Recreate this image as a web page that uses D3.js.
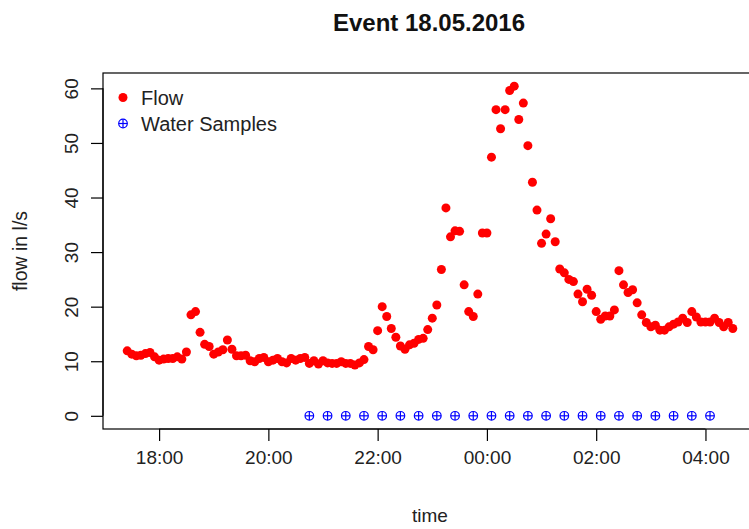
<!DOCTYPE html>
<html>
<head>
<meta charset="utf-8">
<script src="https://cdn.jsdelivr.net/npm/d3@7"></script>
<style>
  html, body { margin: 0; padding: 0; background: #fff; }
  svg { display: block; font-family: "Liberation Sans", Arial, sans-serif; }
</style>
</head>
<body>
<script>
// ---- data ----
const flowTimes = [
  "17:25","17:30","17:35","17:40","17:45","17:50","17:55",
  "18:00","18:05","18:10","18:15","18:20","18:25","18:30","18:35","18:40","18:45","18:50","18:55",
  "19:00","19:05","19:10","19:15","19:20","19:25","19:30","19:35","19:40","19:45","19:50","19:55",
  "20:00","20:05","20:10","20:15","20:20","20:25","20:30","20:35","20:40","20:45","20:50","20:55",
  "21:00","21:05","21:10","21:15","21:20","21:25","21:30","21:35","21:40","21:45","21:50","21:55",
  "22:00","22:05","22:10","22:15","22:20","22:25","22:30","22:35","22:40","22:45","22:50","22:55",
  "23:00","23:05","23:10","23:15","23:20","23:25","23:30","23:35","23:40","23:45","23:50","23:55",
  "00:00","00:05","00:10","00:15","00:20","00:25","00:30","00:35","00:40","00:45","00:50","00:55",
  "01:00","01:05","01:10","01:15","01:20","01:25","01:30","01:35","01:40","01:45","01:50","01:55",
  "02:00","02:05","02:10","02:15","02:20","02:25","02:30","02:35","02:40","02:45","02:50","02:55",
  "03:00","03:05","03:10","03:15","03:20","03:25","03:30","03:35","03:40","03:45","03:50","03:55",
  "04:00","04:05","04:10","04:15","04:20","04:25","04:30"
];
const flowValues = [
  11.9,11.3,11.0,11.1,11.4,11.6,10.8,
  10.2,10.4,10.5,10.5,10.8,10.4,11.7,18.5,19.1,15.3,13.1,12.7,
  11.3,11.7,12.1,13.9,12.2,11.0,11.0,11.1,10.1,9.9,10.5,10.7,
  9.9,10.2,10.5,9.9,9.7,10.5,10.2,10.5,10.7,9.6,10.1,9.5,
  10.1,9.7,9.6,9.6,9.9,9.6,9.6,9.3,9.7,10.3,12.7,12.1,
  15.6,20.0,18.2,16.0,14.4,12.8,12.2,13.0,13.3,14.0,14.2,15.8,
  17.9,20.3,26.8,38.1,32.8,33.9,33.8,24.0,19.1,18.2,22.3,33.5,
  33.5,47.4,56.1,52.6,56.1,59.6,60.4,54.3,57.3,49.5,42.8,37.7,
  31.6,33.3,36.1,31.9,26.9,26.2,25.0,24.6,22.3,20.9,23.2,22.1,
  19.1,17.7,18.3,18.3,19.4,26.6,24.0,22.6,23.1,20.7,18.5,17.1,
  16.3,16.6,15.7,15.7,16.3,16.8,17.2,17.9,17.1,19.1,18.1,17.2,
  17.2,17.2,17.9,17.1,16.3,17.1,16.0
];
const sampleTimes = [
  "20:45","21:05","21:25","21:45","22:05","22:25","22:45","23:05","23:25","23:45",
  "00:05","00:25","00:45","01:05","01:25","01:45","02:05","02:25","02:45","03:05",
  "03:25","03:45","04:05"
];
const sampleValues = [0,0,0,0,0,0,0,0,0,0,0,0,0,0,0,0,0,0,0,0,0,0,0];
const xTickLabels = ["18:00","20:00","22:00","00:00","02:00","04:00"];
const yTickValues = [0,10,20,30,40,50,60];
const titleText = "Event 18.05.2016";
const xLabel = "time";
const yLabel = "flow in l/s";
const legendLabels = ["Flow","Water Samples"];

// ---- helpers ----
function toDate(hm) {
  const [h, m] = hm.split(":").map(Number);
  const day = h < 12 ? 18 : 17;
  return new Date(2016, 4, day, h, m);
}

const W = 749, H = 529;
const plot = { left: 103, right: 757, top: 73, bottom: 429 };

const svg = d3.select("body").append("svg").attr("width", W).attr("height", H);

const flow = flowTimes.map((t, i) => ({ t: toDate(t), v: flowValues[i] }));
const samples = sampleTimes.map((t, i) => ({ t: toDate(t), v: sampleValues[i] }));

// R-style 4% padding
const allT = flow.map(d => +d.t).concat(samples.map(d => +d.t));
const tExt = d3.extent(allT);
const tPad = (tExt[1] - tExt[0]) * 0.04;
const allV = flowValues.concat(sampleValues);
const vExt = d3.extent(allV);
const vPad = (vExt[1] - vExt[0]) * 0.04;

const x = d3.scaleTime()
  .domain([new Date(tExt[0] - tPad), new Date(tExt[1] + tPad)])
  .range([plot.left, plot.right]);
const y = d3.scaleLinear()
  .domain([vExt[0] - vPad, vExt[1] + vPad])
  .range([plot.bottom, plot.top]);

// box
svg.append("rect")
  .attr("x", plot.left).attr("y", plot.top)
  .attr("width", plot.right - plot.left).attr("height", plot.bottom - plot.top)
  .attr("fill", "none").attr("stroke", "#000").attr("stroke-width", 1.2);

// x axis
const xTicks = xTickLabels.map(toDate);
const xAxis = d3.axisBottom(x)
  .tickValues(xTicks)
  .tickFormat(d3.timeFormat("%H:%M"))
  .tickSize(12).tickPadding(10);
const gx = svg.append("g").attr("transform", `translate(0,${plot.bottom})`).call(xAxis);
gx.select(".domain").attr("d", `M${x(xTicks[0])},0H${x(xTicks[xTicks.length-1])}`)
  .attr("stroke", "#000").attr("stroke-width", 1.2);
gx.selectAll(".tick line").attr("stroke", "#000").attr("stroke-width", 1.2);
gx.selectAll(".tick text").attr("font-size", 19).attr("fill", "#222")
  .attr("font-family", "Liberation Sans, Arial, sans-serif");

// y axis
const yAxis = d3.axisLeft(y).tickValues(yTickValues).tickSize(12).tickFormat(d3.format("d"));
const gy = svg.append("g").attr("transform", `translate(${plot.left},0)`).call(yAxis);
gy.select(".domain").attr("d", `M0,${y(yTickValues[0])}V${y(yTickValues[yTickValues.length-1])}`)
  .attr("stroke", "#000").attr("stroke-width", 1.2);
gy.selectAll(".tick line").attr("stroke", "#000").attr("stroke-width", 1.2);
gy.selectAll(".tick text")
  .attr("font-size", 19).attr("fill", "#222")
  .attr("font-family", "Liberation Sans, Arial, sans-serif")
  .attr("x", null).attr("dy", null)
  .attr("text-anchor", "middle")
  .attr("transform", "translate(-25,0) rotate(-90)");

// title and labels
svg.append("text").attr("x", (plot.left + plot.right) / 2 - 1).attr("y", 31)
  .attr("text-anchor", "middle").attr("font-size", 24).attr("font-weight", "bold")
  .attr("fill", "#111").text(titleText);
svg.append("text").attr("x", (plot.left + plot.right) / 2).attr("y", 522)
  .attr("text-anchor", "middle").attr("font-size", 19).attr("fill", "#222").text(xLabel);
svg.append("text")
  .attr("transform", `translate(27,${(plot.top + plot.bottom) / 2}) rotate(-90)`)
  .attr("text-anchor", "middle").attr("font-size", 19.5).attr("fill", "#222").text(yLabel);

// clip
svg.append("clipPath").attr("id", "clip").append("rect")
  .attr("x", plot.left).attr("y", plot.top)
  .attr("width", plot.right - plot.left).attr("height", plot.bottom - plot.top);

// flow points
svg.append("g").attr("clip-path", "url(#clip)")
  .selectAll("circle").data(flow).join("circle")
  .attr("cx", d => x(d.t)).attr("cy", d => y(d.v)).attr("r", 4.5)
  .attr("fill", "#ff0000");

// sample symbols (circle plus)
function samplePlus(g) {
  g.append("circle").attr("r", 4.3).attr("fill", "none").attr("stroke", "#0000ff").attr("stroke-width", 1.2);
  g.append("line").attr("x1", -4.3).attr("x2", 4.3).attr("y1", 0).attr("y2", 0).attr("stroke", "#0000ff").attr("stroke-width", 1.2);
  g.append("line").attr("y1", -4.3).attr("y2", 4.3).attr("x1", 0).attr("x2", 0).attr("stroke", "#0000ff").attr("stroke-width", 1.2);
}
svg.append("g").selectAll("g").data(samples).join("g")
  .attr("transform", d => `translate(${x(d.t)},${y(d.v)})`)
  .each(function() { samplePlus(d3.select(this)); });

// legend
const lg = svg.append("g");
lg.append("circle").attr("cx", 123).attr("cy", 97.5).attr("r", 4.5).attr("fill", "#ff0000");
lg.append("text").attr("x", 141).attr("y", 104.5).attr("font-size", 20).attr("fill", "#222").text(legendLabels[0]);
const lp = lg.append("g").attr("transform", "translate(123,123.5)");
samplePlus(lp);
lg.append("text").attr("x", 141).attr("y", 130.5).attr("font-size", 20).attr("fill", "#222").text(legendLabels[1]);
</script>
</body>
</html>
